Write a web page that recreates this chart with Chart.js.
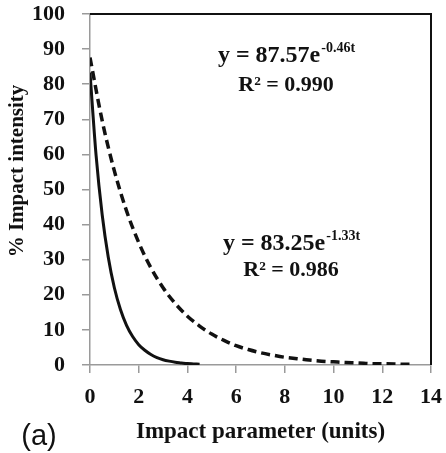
<!DOCTYPE html>
<html><head><meta charset="utf-8">
<script src="https://cdn.jsdelivr.net/npm/chart.js@4"></script>
<style>html,body{margin:0;padding:0;background:#fff}#wrap{position:relative;width:446px;height:453px}</style>
</head><body><div id="wrap"><canvas id="c" width="446" height="453"></canvas></div>
<script>
// ---- data ----
const tSolid = [0,0.25,0.5,0.75,1,1.25,1.5,1.75,2,2.25,2.5,2.75,3,3.25,3.5,3.75,4,4.25,4.5];
const ySolid = [83.3,59.7,42.8,30.7,22.0,15.8,11.3,8.1,5.8,4.2,3.0,2.1,1.5,1.1,0.8,0.6,0.4,0.3,0.2];
const tDashed = [0,0.5,1,1.5,2,2.5,3,3.5,4,4.5,5,5.5,6,6.5,7,7.5,8,8.5,9,9.5,10,10.5,11,11.5,12,12.5,13,13.3];
const yDashed = [87.6,69.6,55.3,43.9,34.9,27.7,22.0,17.5,13.9,11.1,8.8,7.0,5.5,4.4,3.5,2.8,2.2,1.8,1.4,1.1,0.9,0.7,0.6,0.4,0.35,0.3,0.2,0.2];
const xTicks = [0,2,4,6,8,10,12,14];
const yTicks = [0,10,20,30,40,50,60,70,80,90,100];
const xTitle = 'Impact parameter (units)';
const yTitle = '% Impact intensity';
const panelLabel = '(a)';
const eqDashed = ['y = 87.57e', '-0.46t', 'R\u00B2 = 0.990'];
const eqSolid = ['y = 83.25e', '-1.33t', 'R\u00B2 = 0.986'];

const SERIF = '"Liberation Serif", "Times New Roman", serif';

const textPlugin = {
  id: 'texts',
  afterDraw(chart) {
    const ctx = chart.ctx, a = chart.chartArea;
    ctx.save();
    // top and right frame lines
    ctx.strokeStyle = '#111'; ctx.lineWidth = 2;
    ctx.beginPath();
    ctx.moveTo(a.left, a.top); ctx.lineTo(a.right, a.top); ctx.lineTo(a.right, a.bottom);
    ctx.stroke();
    ctx.fillStyle = '#111';
    // y title
    ctx.save();
    ctx.translate(18, 171); ctx.rotate(-Math.PI/2);
    ctx.font = 'bold 21px ' + SERIF; ctx.textAlign = 'center'; ctx.textBaseline = 'middle';
    ctx.fillText(yTitle, 0, 0);
    ctx.restore();
    // panel label
    ctx.font = '29px "Liberation Sans", Arial, sans-serif'; ctx.textAlign = 'center'; ctx.textBaseline = 'alphabetic';
    ctx.fillText(panelLabel, 39, 445);
    // equations
    function eq(lines, cx, b1, b2) {
      ctx.textAlign = 'left'; ctx.textBaseline = 'alphabetic';
      ctx.font = 'bold 24px ' + SERIF;
      const w1 = ctx.measureText(lines[0]).width;
      ctx.font = 'bold 14px ' + SERIF;
      const w2 = ctx.measureText(lines[1]).width;
      const x0 = cx - (w1 + w2) / 2;
      ctx.font = 'bold 24px ' + SERIF;
      ctx.fillText(lines[0], x0, b1);
      ctx.font = 'bold 14px ' + SERIF;
      ctx.fillText(lines[1], x0 + w1 + 1, b1 - 10);
      ctx.font = 'bold 22px ' + SERIF; ctx.textAlign = 'center';
      ctx.fillText(lines[2], cx, b2);
    }
    eq(eqDashed, 286, 62, 91);
    eq(eqSolid, 291, 250, 276);
    ctx.restore();
  }
};

new Chart(document.getElementById('c'), {
  type: 'line',
  data: {
    datasets: [
      { label: 'solid', data: tSolid.map((t, i) => ({x: t, y: ySolid[i]})),
        borderColor: '#111', borderWidth: 3, pointRadius: 0, fill: false, cubicInterpolationMode: 'monotone' },
      { label: 'dashed', data: tDashed.map((t, i) => ({x: t, y: yDashed[i]})),
        borderColor: '#111', borderWidth: 3.5, borderDash: [9, 5], pointRadius: 0, fill: false, cubicInterpolationMode: 'monotone' }
    ]
  },
  options: {
    responsive: false, animation: false, devicePixelRatio: 1,
    layout: { padding: { top: 14, right: 15, left: 0, bottom: 0 } },
    plugins: { legend: { display: false }, tooltip: { enabled: false } },
    scales: {
      x: {
        type: 'linear', min: 0, max: 14,
        afterBuildTicks: s => { s.ticks = xTicks.map(v => ({value: v})); },
        afterFit: s => { s.height = 88; s.paddingLeft = 0; s.paddingRight = 0; },
        ticks: { color: '#111', font: { family: SERIF, size: 22, weight: 'bold' }, padding: 11, maxRotation: 0, autoSkip: false },
        grid: { drawOnChartArea: false, drawTicks: true, tickLength: 8, color: '#9a9a9a', lineWidth: 1.5 },
        border: { display: true, color: '#9a9a9a', width: 1.5 },
        title: { display: true, text: xTitle, color: '#111', font: { family: SERIF, size: 23, weight: 'bold' }, padding: { top: 0, bottom: 7 } }
      },
      y: {
        min: 0, max: 100,
        afterBuildTicks: s => { s.ticks = yTicks.map(v => ({value: v})); },
        afterFit: s => { s.width = 90; s.paddingTop = 0; s.paddingBottom = 0; },
        ticks: { color: '#111', font: { family: SERIF, size: 22, weight: 'bold' }, padding: 17, autoSkip: false },
        grid: { drawOnChartArea: false, drawTicks: true, tickLength: 8, color: '#9a9a9a', lineWidth: 1.5 },
        border: { display: true, color: '#9a9a9a', width: 1.5 }
      }
    }
  },
  plugins: [textPlugin]
});
</script>
</body></html>
